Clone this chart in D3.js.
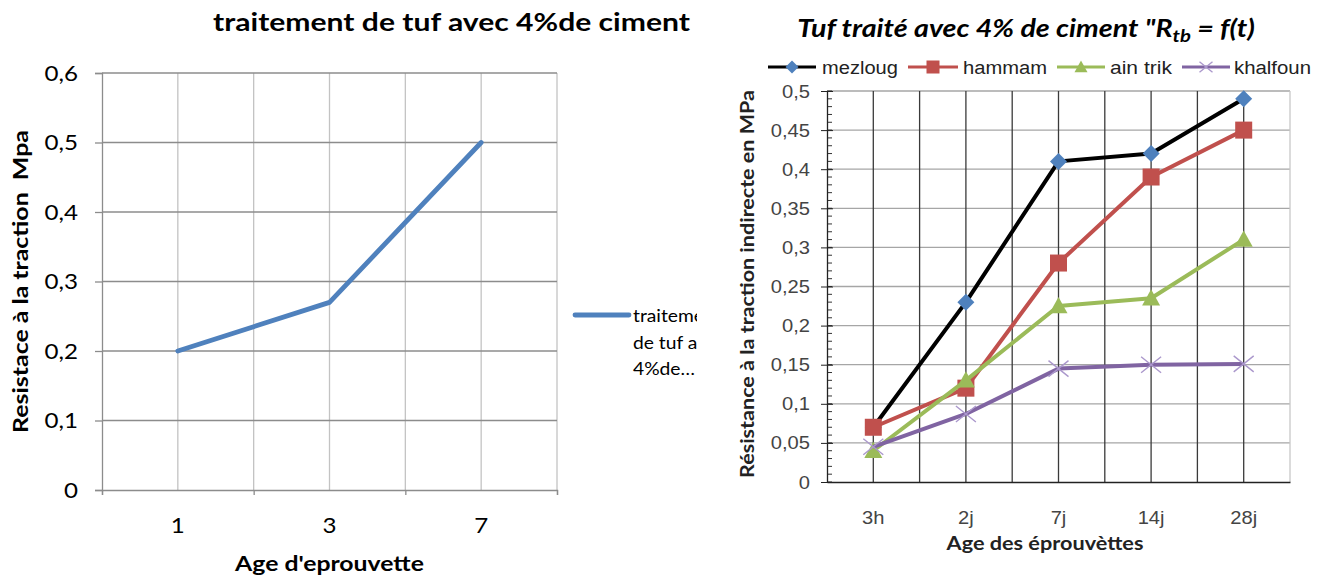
<!DOCTYPE html>
<html><head><meta charset="utf-8">
<script src="https://cdn.jsdelivr.net/npm/d3@7"></script>
<style>
html,body{margin:0;padding:0;background:#fff;}
svg{display:block;}
text{white-space:pre;}
</style></head>
<body>
<svg id="chart" width="1327" height="579"></svg>
<script>
// ---------- Data: left chart ----------
const leftTitle = "traitement de tuf avec 4%de ciment";
const leftCategories = ["1", "3", "7"];
const leftValues = [0.2, 0.27, 0.5];
const leftYTicks = [0, 0.1, 0.2, 0.3, 0.4, 0.5, 0.6];
const leftLegendLines = ["traitement", "de tuf a", "4%de…"];
const leftYTitle = "Resistace à la traction  Mpa";
const leftXTitle = "Age d'eprouvette";

// ---------- Data: right chart ----------
const rightCategories = ["3h", "2j", "7j", "14j", "28j"];
const seriesNames = ["mezloug", "hammam", "ain trik", "khalfoun"];
const mezloug = [0.07, 0.23, 0.41, 0.42, 0.49];
const hammam = [0.07, 0.12, 0.28, 0.39, 0.45];
const ainTrik = [0.04, 0.13, 0.225, 0.235, 0.31];
const khalfoun = [0.045, 0.087, 0.145, 0.15, 0.151];
const rightYTicks = [0, 0.05, 0.1, 0.15, 0.2, 0.25, 0.3, 0.35, 0.4, 0.45, 0.5];
const rightTitleMain = "Tuf traité avec 4% de ciment \"R";
const rightTitleSub = "tb";
const rightTitleEnd = " = f(t)";
const rightYTitle = "Résistance à la traction indirecte en MPa";
const rightXTitle = "Age des éprouvèttes";

const fr = d3.formatLocale({decimal: ",", thousands: " ", grouping: [3], currency: ["", "€"]});
const fmt = fr.format("~g");

const svg = d3.select("#chart");
const CAL = "Lato, 'Open Sans', sans-serif";
const ARI = "'Liberation Sans', Arial, sans-serif";

function label(parent, o) {
  const t = parent.append("text")
    .attr("text-anchor", o.anchor || "middle")
    .attr("font-family", o.family || CAL)
    .attr("font-size", o.size)
    .attr("font-weight", o.weight || "normal")
    .attr("font-style", o.style || "normal")
    .attr("fill", o.fill || "#000");
  if (o.text !== undefined) t.text(o.text);
  if (o.build) o.build(t);
  let sx = o.sx || 1;
  if (o.width) sx = o.width / t.node().getComputedTextLength();
  t.attr("transform", `translate(${o.x},${o.y}) rotate(${o.rotate || 0}) scale(${sx},1)`);
  return t;
}

// ================= LEFT CHART =================
{
  const x = d3.scaleBand().domain(leftCategories).range([102, 557]).paddingInner(0).paddingOuter(0);
  const y = d3.scaleLinear().domain([0, 0.6]).range([490, 73]);
  const g = svg.append("g");
  const cx = c => x(c) + x.bandwidth() / 2;

  const vx = [];
  leftCategories.forEach(c => { vx.push(x(c)); vx.push(cx(c)); });
  vx.push(x.range()[1]);
  g.selectAll(".vg").data(vx.slice(1)).join("line")
    .attr("x1", d => d).attr("x2", d => d).attr("y1", y(0.6)).attr("y2", y(0))
    .attr("stroke", "#c3c3c3").attr("stroke-width", 1.3);
  g.selectAll(".hg").data(leftYTicks.filter(d => d > 0)).join("line")
    .attr("x1", x.range()[0]).attr("x2", x.range()[1]).attr("y1", d => y(d)).attr("y2", d => y(d))
    .attr("stroke", "#8c8c8c").attr("stroke-width", 1.3);

  const ya = d3.axisLeft(y).tickValues(leftYTicks).tickFormat("").tickSize(7);
  const yg = g.append("g").attr("transform", `translate(${x.range()[0]},0)`).call(ya);
  yg.select(".domain").attr("stroke", "#8c8c8c").attr("stroke-width", 1.3);
  yg.selectAll(".tick line").attr("stroke", "#8c8c8c").attr("stroke-width", 1.3);
  leftYTicks.forEach(d => label(g, {x: 78, y: y(d) + 7.5, text: fmt(d), size: 21, anchor: "end", sx: 1.15}));

  const xb = d3.scaleLinear().domain([0, leftCategories.length]).range(x.range());
  const xa = d3.axisBottom(xb).tickValues(d3.range(leftCategories.length + 1)).tickSize(5).tickFormat("");
  const xg = g.append("g").attr("transform", `translate(0,${y(0)})`).call(xa);
  xg.select(".domain").attr("stroke", "#8c8c8c").attr("stroke-width", 1.3);
  xg.selectAll(".tick line").attr("stroke", "#8c8c8c").attr("stroke-width", 1.3);
  leftCategories.forEach(c => label(g, {x: cx(c), y: 533, text: c, size: 21, sx: 1.15}));

  const line = d3.line().x((d, i) => cx(leftCategories[i])).y(d => y(d));
  g.append("path").datum(leftValues).attr("d", line).attr("fill", "none")
    .attr("stroke", "#4f81bd").attr("stroke-width", 4.8).attr("stroke-linejoin", "round").attr("stroke-linecap", "round");

  label(g, {x: 451.5, y: 31, text: leftTitle, size: 24, weight: "bold", width: 477});
  label(g, {x: 28, y: 281.5, text: leftYTitle, size: 20, weight: "bold", rotate: -90, width: 303});
  label(g, {x: 329.5, y: 571, text: leftXTitle, size: 20, weight: "bold", width: 189});

  g.append("line").attr("x1", 575).attr("x2", 629).attr("y1", 315).attr("y2", 315)
    .attr("stroke", "#4f81bd").attr("stroke-width", 4.8).attr("stroke-linecap", "round");
  svg.append("clipPath").attr("id", "legclip").append("rect").attr("x", 600).attr("y", 290).attr("width", 97).attr("height", 100);
  const lgg = g.append("g").attr("clip-path", "url(#legclip)");
  leftLegendLines.forEach((w, i) => label(lgg, {x: 633, y: 322 + i * 26.5, text: w, size: 17.5, anchor: "start", sx: 1.1}));
}

// ================= RIGHT CHART =================
{
  const x = d3.scaleBand().domain(rightCategories).range([827, 1290]);
  const y = d3.scaleLinear().domain([0, 0.5]).range([482, 91]);
  const g = svg.append("g");
  const cx = c => x(c) + x.bandwidth() / 2;

  g.selectAll(".hg").data(rightYTicks.filter(d => d > 0)).join("line")
    .attr("x1", x.range()[0]).attr("x2", x.range()[1]).attr("y1", d => y(d)).attr("y2", d => y(d))
    .attr("stroke", "#a6a6a6").attr("stroke-width", 1.3);
  const vx = [];
  rightCategories.forEach(c => { vx.push(cx(c)); vx.push(x(c) + x.bandwidth()); });
  g.selectAll(".vg").data(vx).join("line")
    .attr("x1", d => d).attr("x2", d => d).attr("y1", y(0.5)).attr("y2", y(0))
    .attr("stroke", (d, i) => i === vx.length - 1 ? "#c8c8c8" : "#3a3a3a").attr("stroke-width", 1.3);

  const minor = d3.range(0, 0.5001, 0.01);
  g.selectAll(".mt").data(minor).join("line")
    .attr("x1", x.range()[0]).attr("x2", x.range()[0] + 5).attr("y1", d => y(d)).attr("y2", d => y(d))
    .attr("stroke", "#333").attr("stroke-width", 1);
  const ya = d3.axisLeft(y).tickValues(rightYTicks).tickFormat("").tickSizeInner(6).tickSizeOuter(0);
  const yg = g.append("g").attr("transform", `translate(${x.range()[0]},0)`).call(ya);
  yg.select(".domain").attr("stroke", "#222").attr("stroke-width", 1.3);
  yg.selectAll(".tick line").attr("stroke", "#222").attr("x2", 6).attr("x1", -6);
  rightYTicks.forEach(d => label(g, {x: 810, y: y(d) + 6.5, text: fmt(d), size: 18, anchor: "end", family: ARI, fill: "#444", sx: 1.12}));

  const xa = d3.axisBottom(x).tickSize(0).tickFormat("");
  const xg = g.append("g").attr("transform", `translate(0,${y(0)})`).call(xa);
  xg.select(".domain").attr("stroke", "#222").attr("stroke-width", 1.3);
  rightCategories.forEach(c => label(g, {x: cx(c), y: 524, text: c, size: 18, family: ARI, fill: "#444", sx: 1.12}));

  const all = [mezloug, hammam, ainTrik, khalfoun];
  const lineColors = ["#000000", "#c0504d", "#9bbb59", "#8064a2"];
  const markerColors = ["#4f81bd", "#c0504d", "#9bbb59", "#ab98cc"];
  const markers = ["diamond", "square", "triangle", "x"];
  const line = d3.line().x((d, i) => cx(rightCategories[i])).y(d => y(d));

  function drawMarker(sel, type, color, px, py, s) {
    if (type === "diamond") {
      sel.append("path").attr("d", `M${px},${py - s}L${px + s},${py}L${px},${py + s}L${px - s},${py}Z`).attr("fill", color);
    } else if (type === "square") {
      sel.append("rect").attr("x", px - s).attr("y", py - s).attr("width", 2 * s).attr("height", 2 * s).attr("fill", color);
    } else if (type === "triangle") {
      sel.append("path").attr("d", `M${px},${py - s}L${px + s},${py + s * 0.8}L${px - s},${py + s * 0.8}Z`).attr("fill", color);
    } else {
      sel.append("path").attr("d", `M${px - s},${py - s * 0.8}L${px + s},${py + s * 0.8}M${px - s},${py + s * 0.8}L${px + s},${py - s * 0.8}`)
        .attr("stroke", color).attr("stroke-width", 1.4).attr("fill", "none");
    }
  }
  const sizes = [8.5, 8.5, 9, 10];
  all.forEach((vals, k) => {
    g.append("path").datum(vals).attr("d", line).attr("fill", "none")
      .attr("stroke", lineColors[k]).attr("stroke-width", 4).attr("stroke-linejoin", "round");
    const mg = g.append("g");
    vals.forEach((v, i) => drawMarker(mg, markers[k], markerColors[k], cx(rightCategories[i]), y(v), sizes[k]));
  });

  const legX = [768, 908, 1057, 1182];
  const legW = [48, 50, 48, 48];
  const legTextX = [822, 963, 1110, 1234];
  const legTextW = [76, 84, 62, 77];
  seriesNames.forEach((n, k) => {
    const lg = g.append("g");
    lg.append("line").attr("x1", legX[k]).attr("x2", legX[k] + legW[k]).attr("y1", 67).attr("y2", 67)
      .attr("stroke", lineColors[k]).attr("stroke-width", 3);
    drawMarker(lg, markers[k], markerColors[k], legX[k] + legW[k] / 2, 67, 6.5);
    label(lg, {x: legTextX[k], y: 74, text: n, size: 19, family: ARI, fill: "#222", anchor: "start", width: legTextW[k]});
  });

  label(g, {x: 1026, y: 37, size: 24, weight: "bold", style: "italic", width: 458, build: t => {
    t.append("tspan").text(rightTitleMain);
    t.append("tspan").attr("dy", 5).attr("font-size", 17).text(rightTitleSub);
    t.append("tspan").attr("dy", -5).text(rightTitleEnd);
  }});

  label(g, {x: 754, y: 284, text: rightYTitle, size: 18, weight: "bold", fill: "#222", rotate: -90, width: 388});
  label(g, {x: 1045, y: 550, text: rightXTitle, size: 18, weight: "bold", fill: "#222", width: 197});
}
</script>
</body></html>
